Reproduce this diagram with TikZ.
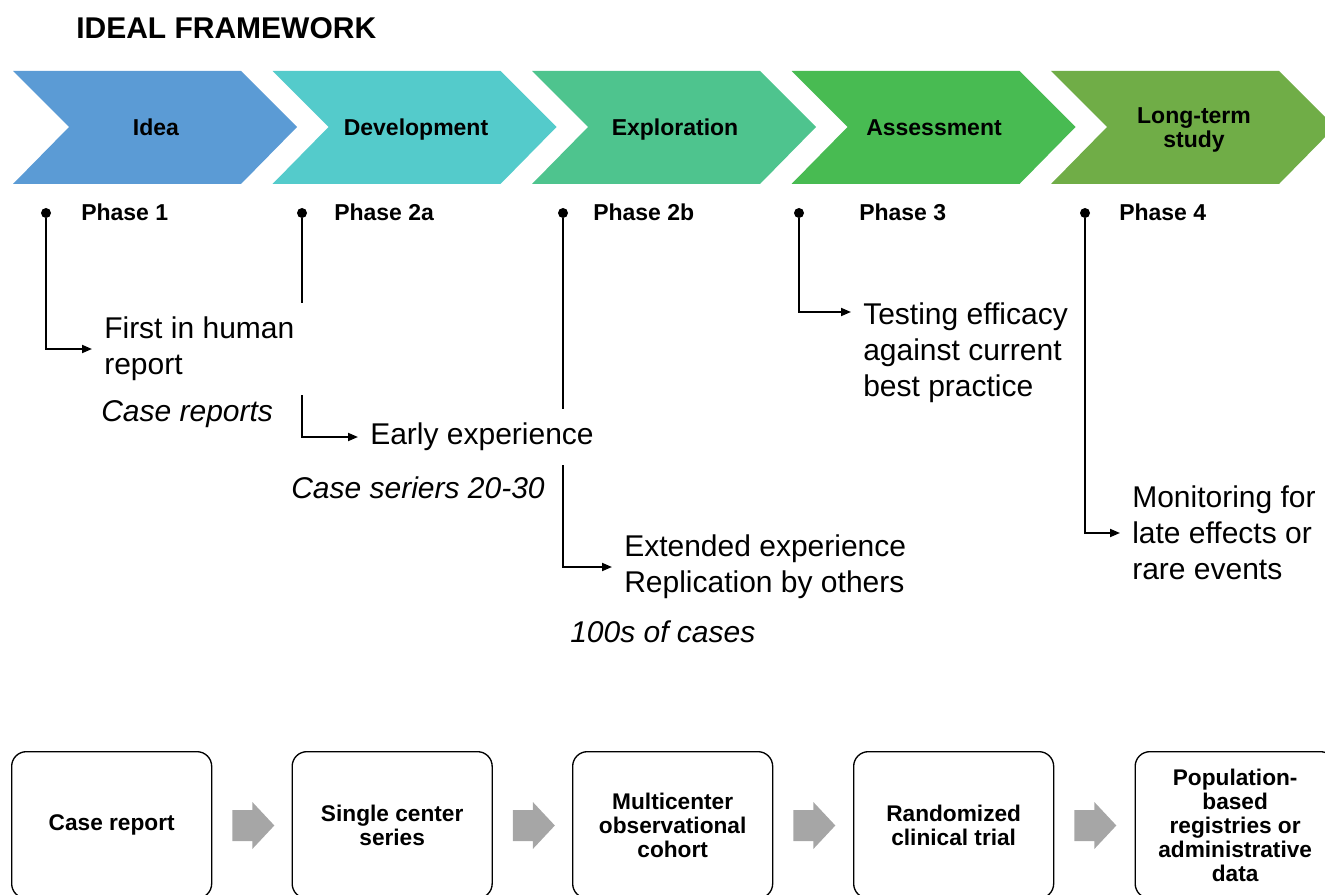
\documentclass[tikz,border=0pt]{standalone}
\usepackage{fontspec}
\setmainfont{Liberation Sans}
\usetikzlibrary{arrows.meta,calc,backgrounds}
\definecolor{cidea}{RGB}{91,155,213}
\definecolor{cdev}{RGB}{84,203,203}
\definecolor{cexp}{RGB}{78,196,142}
\definecolor{cass}{RGB}{72,187,82}
\definecolor{clong}{RGB}{112,173,71}
\definecolor{arrowgray}{RGB}{166,166,166}
\begin{document}
\begin{tikzpicture}[x=0.75pt,y=-0.75pt,
  titlestyle/.style={anchor=west,inner sep=0,font=\bfseries\fontsize{22.5}{27}\selectfont},
  chevlabel/.style={align=center,inner sep=0,text height=12.4pt,text depth=0pt,font=\bfseries\fontsize{17.25}{18}\selectfont},
  phaselabel/.style={anchor=west,inner sep=0,font=\bfseries\fontsize{17.25}{18}\selectfont},
  dotnode/.style={circle,fill=black,inner sep=0,minimum size=7.5pt},
  bodytext/.style={anchor=west,align=left,inner xsep=9pt,inner ysep=10.5pt,font=\fontsize{22.5}{27}\selectfont},
  gaptext/.style={bodytext,fill=white},
  notetext/.style={anchor=west,inner sep=0,font=\itshape\fontsize{22.5}{27}\selectfont},
  conn/.style={line width=1.4pt,-{Triangle[length=7.5pt,width=6pt]}},
  stagebox/.style={draw,line width=1pt,rounded corners=11pt,minimum width=150pt,minimum height=110pt,
                   anchor=north west,align=center,inner sep=0,font=\bfseries\fontsize{17}{18}\selectfont},
  grayarrow/.style={fill=arrowgray}
]
\useasboundingbox (0,0) rectangle (1325,895);

% title
\node[titlestyle] (title) at (76,28) {IDEAL FRAMEWORK};

% chevrons
\foreach \L/\col in {13/cidea, 272.5/cdev, 532/cexp, 791.5/cass, 1051/clong}{
  \fill[\col] (\L,71) -- ++(228,0) -- ++(56,56) -- ++(-56,57) -- ++(-228,0) -- ++(56,-57) -- cycle;
}
\node[chevlabel] (l1) at (156,127) {Idea};
\node[chevlabel] (l2) at (416,127) {Development};
\node[chevlabel] (l3) at (675,127) {Exploration};
\node[chevlabel] (l4) at (934,127) {Assessment};
\node[chevlabel] (l5) at (1194,139) {Long-term\\study};

% phase labels and dots
\node[phaselabel] (ph1) at (81,212) {Phase 1};
\node[phaselabel] (ph2a) at (334,212) {Phase 2a};
\node[phaselabel] (ph2b) at (593,212) {Phase 2b};
\node[phaselabel] (ph3) at (859,212) {Phase 3};
\node[phaselabel] (ph4) at (1119,212) {Phase 4};

\node[dotnode] (d1) at (46,213) {};
\node[dotnode] (d2a) at (302,213) {};
\node[dotnode] (d2b) at (563,213) {};
\node[dotnode] (d3) at (799,213) {};
\node[dotnode] (d4) at (1085,213) {};

% texts
\node[gaptext] (fih) at (92,349) {First in human\\report};
\node[notetext] (cr) at (101,414) {Case reports};
\node[gaptext] (early) at (358,437) {Early experience};
\node[notetext] (cs) at (291,488) {Case seriers 20-30};
\node[bodytext] (ext) at (612,567) {Extended experience\\Replication by others};
\node[notetext] (hc) at (570,632) {100s of cases};
\node[bodytext] (test) at (851,353) {Testing efficacy\\against current\\best practice};
\node[bodytext] (mon) at (1120,533) {Monitoring for\\late effects or\\rare events};
\coordinate (t3) at ($(test.west)+(0,-41)$);

% connectors
\begin{scope}[on background layer]
  \draw[conn] (d1) |- (fih.west);
  \draw[conn] (d2a) |- (early.west);
  \draw[conn] (d2b) |- (ext.west);
  \draw[conn] (d3) |- (t3);
  \draw[conn] (d4) |- (mon.west);
\end{scope}

% bottom stages
\node[stagebox] (b1) at (11,751) {Case report};
\node[stagebox] (b2) at (291.5,751) {Single center\\series};
\node[stagebox] (b3) at (572,751) {Multicenter\\observational\\cohort};
\node[stagebox] (b4) at (853,751) {Randomized\\clinical trial};
\node[stagebox] (b5) at (1134.5,751) {Population-\\based\\registries or\\administrative\\data};

\foreach \a/\b in {b1/b2,b2/b3,b3/b4,b4/b5}{
  \fill[grayarrow] ($(\a.east)+(20,-15)$) -- ++(20,0) -- ++(0,-8) -- ++(22,23.5) -- ++(-22,23.5) -- ++(0,-8) -- ++(-20,0) -- cycle;
}
\end{tikzpicture}
\end{document}
